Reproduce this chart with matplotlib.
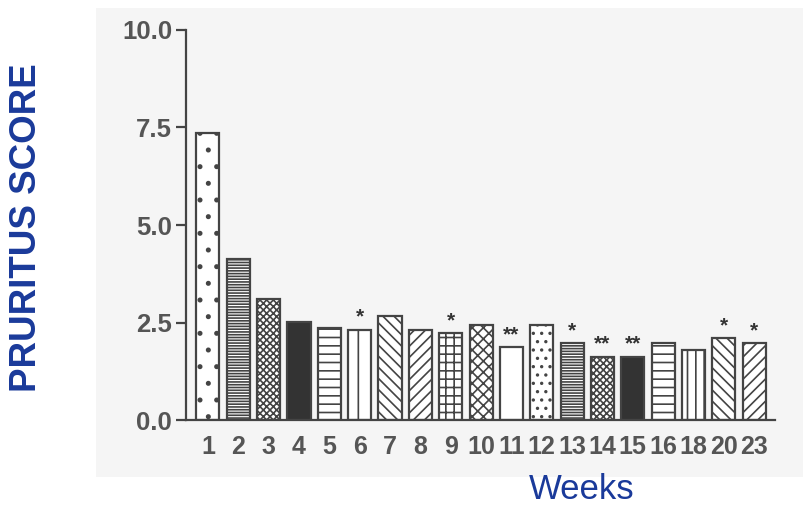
import matplotlib.pyplot as plt
from matplotlib.patches import Rectangle

plt.rcParams['font.family'] = ['Liberation Sans', 'DejaVu Sans']
plt.rcParams['hatch.linewidth'] = 1.2

# data
weeks = ['1', '2', '3', '4', '5', '6', '7', '8', '9', '10', '11', '12',
         '13', '14', '15', '16', '18', '20', '23']
scores = [7.35, 4.13, 3.10, 2.51, 2.36, 2.31, 2.67, 2.31, 2.23, 2.44, 1.87,
          2.44, 1.97, 1.62, 1.62, 1.97, 1.79, 2.10, 1.97]
stars = ['', '', '', '', '', '*', '', '', '*', '', '**', '', '*', '**', '**',
         '', '', '*', '*']
hatches = ['.', '------', 'xxxxx', '', '--', '|', '\\\\\\', '///', '++', 'xxx', '',
           '..', '------', 'xxxxx', '', '--', '||', '\\\\\\', '///']
fills = ['white', 'white', 'white', '#333333', 'white', 'white', 'white', 'white',
         'white', 'white', 'white', 'white', 'white', 'white', '#333333', 'white',
         'white', 'white', 'white']

fig = plt.figure(figsize=(8.04, 5.05), dpi=100)
fig.patches.append(Rectangle((0.12, 0.055), 0.88, 0.93, transform=fig.transFigure,
                             facecolor='#f5f5f5', edgecolor='none', zorder=-1))
ax = fig.add_axes([0.2313, 0.1683, 0.964 - 0.2313, 0.9406 - 0.1683])
ax.set_facecolor('none')
ax.set_zorder(2)

x = list(range(len(weeks)))
bars = ax.bar(x, scores, width=0.76, color=fills, edgecolor='#444444', linewidth=1.6)
for b, h in zip(bars, hatches):
    b.set_hatch(h)

for xi, s, lab in zip(x, scores, stars):
    if lab:
        ax.text(xi, s + 0.08, lab, ha='center', va='bottom', fontsize=15,
                fontweight='bold', color='#333333')

ax.set_xlim(-0.725, 18.69)
ax.set_ylim(0, 10)
ax.set_yticks([0, 2.5, 5.0, 7.5, 10.0])
ax.set_yticklabels(['0.0', '2.5', '5.0', '7.5', '10.0'])
ax.set_xticks(x)
ax.set_xticklabels(weeks)

for side in ['top', 'right']:
    ax.spines[side].set_visible(False)
for side in ['left', 'bottom']:
    ax.spines[side].set_color('#444444')
    ax.spines[side].set_linewidth(1.6)

ax.tick_params(axis='y', length=7, width=1.6, color='#444444', pad=3,
               labelsize=18.5, labelcolor='#555555')
ax.tick_params(axis='x', length=0, pad=11, labelsize=18, labelcolor='#555555')
for t in ax.get_xticklabels() + ax.get_yticklabels():
    t.set_fontweight('bold')

fig.text(0.033, 0.55, 'PRURITUS SCORE', rotation=90, ha='center', va='center',
         fontsize=26.5, fontweight='bold', color='#1a3a9a')
fig.text(0.724, 0.03, 'Weeks', ha='center', va='center', fontsize=25,
         color='#1a3a9a')

fig.savefig('out.png', dpi=100)
